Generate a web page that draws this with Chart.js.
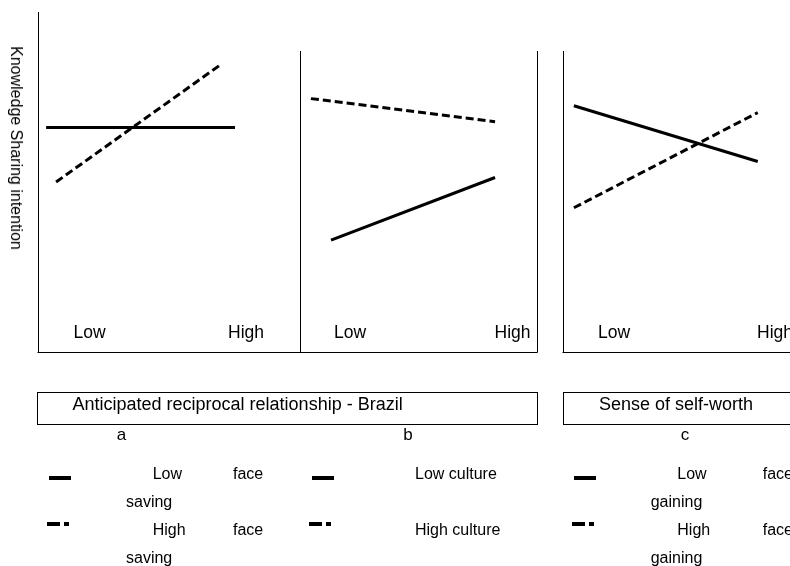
<!DOCTYPE html>
<html>
<head>
<meta charset="utf-8">
<script src="https://cdn.jsdelivr.net/npm/chart.js@4/dist/chart.umd.min.js"></script>
<style>
  html, body { margin: 0; padding: 0; background: #fff; }
  #wrap { position: relative; width: 790px; height: 566px; overflow: hidden; font-family: "Liberation Sans", Arial, sans-serif; color: #000; }
  #wrap canvas { position: absolute; left: 0; top: 0; }
  .t { position: absolute; white-space: nowrap; }
  .box { position: absolute; border: 1px solid #000; box-sizing: border-box; }
  .sw { position: absolute; background: #000; height: 4px; }
</style>
</head>
<body>
<div id="wrap">
  <canvas id="ca" width="790" height="566"></canvas>
  <canvas id="cb" width="790" height="566"></canvas>
  <canvas id="cc" width="790" height="566"></canvas>
</div>
<script>
// ---- data (x in 0..10 along each panel, y in common intention units) ----
const levelLabels = ['Low', 'High'];

// panel a: Anticipated reciprocal relationship - Brazil x face saving
const aLevelX = [1.97, 7.94];
const aLowX = [0.31, 7.52];
const aLowY = [6.60, 6.60];
const aHighX = [0.69, 6.95];
const aHighY = [5.00, 8.44];

// panel b: Anticipated reciprocal relationship - Brazil x culture
const bLevelX = [2.11, 8.97];
const bLowX = [1.31, 8.23];
const bLowY = [3.29, 5.13];
const bHighX = [0.46, 8.23];
const bHighY = [7.45, 6.77];

// panel c: Sense of self-worth x face gaining
const cLevelX = [2.25, 9.34];
const cLowX = [0.48, 8.58];
const cLowY = [7.24, 5.60];
const cHighX = [0.48, 8.58];
const cHighY = [4.24, 7.04];

const yMaxA = 10;
const yMaxBC = 8.85;

const seriesNames = {
  a: ['Low face saving', 'High face saving'],
  b: ['Low culture', 'High culture'],
  c: ['Low face gaining', 'High face gaining']
};

function pts(xs, ys) { return xs.map((x, i) => ({ x: x, y: ys[i] })); }

const framePlugin = {
  id: 'frame',
  afterDraw(chart, args, opts) {
    const ctx = chart.ctx, a = chart.chartArea;
    ctx.save();
    ctx.strokeStyle = '#000';
    ctx.lineWidth = 1;
    const L = Math.floor(a.left) + 0.5, R = Math.floor(a.right) + 0.5, B = Math.floor(a.bottom) + 0.5, T = Math.floor(a.top);
    ctx.beginPath();
    (opts.sides || []).forEach(s => {
      if (s === 'left') { ctx.moveTo(L, T); ctx.lineTo(L, B); }
      if (s === 'right') { ctx.moveTo(R, T); ctx.lineTo(R, B); }
      if (s === 'bottom') { ctx.moveTo(a.left - 0.5, B); ctx.lineTo(a.right + 0.5, B); }
    });
    ctx.stroke();
    // level labels
    const xs = chart.scales.x;
    ctx.fillStyle = '#000';
    ctx.font = '17.5px "Liberation Sans", Arial, sans-serif';
    ctx.textAlign = 'center';
    ctx.textBaseline = 'alphabetic';
    (opts.levelX || []).forEach((v, i) => {
      ctx.fillText(levelLabels[i], xs.getPixelForValue(v), a.bottom - 14);
    });
    ctx.restore();
  }
};

function makeChart(id, pad, yMax, lowPts, highPts, names, sides, levelX) {
  return new Chart(document.getElementById(id), {
    type: 'scatter',
    data: {
      datasets: [
        { label: names[0], data: lowPts, showLine: true, borderColor: '#000', borderWidth: 3, pointRadius: 0, fill: false },
        { label: names[1], data: highPts, showLine: true, borderColor: '#000', borderWidth: 3, borderDash: [8, 4], pointRadius: 0, fill: false }
      ]
    },
    options: {
      responsive: false,
      animation: false,
      layout: { padding: pad },
      scales: {
        x: { type: 'linear', min: 0, max: 10, display: false },
        y: { type: 'linear', min: 0, max: yMax, display: false }
      },
      plugins: {
        legend: { display: false },
        tooltip: { enabled: false },
        frame: { sides: sides, levelX: levelX }
      }
    },
    plugins: [framePlugin]
  });
}

makeChart('ca', { left: 38, top: 12, right: 490, bottom: 214 }, yMaxA,
  pts(aLowX, aLowY), pts(aHighX, aHighY), seriesNames.a, ['left', 'bottom'], aLevelX);
makeChart('cb', { left: 300, top: 51, right: 253, bottom: 214 }, yMaxBC,
  pts(bLowX, bLowY), pts(bHighX, bHighY), seriesNames.b, ['left', 'right', 'bottom'], bLevelX);
makeChart('cc', { left: 563, top: 51, right: 0, bottom: 214 }, yMaxBC,
  pts(cLowX, cLowY), pts(cHighX, cHighY), seriesNames.c, ['left', 'bottom'], cLevelX);

// ---- surrounding text, boxes and legend keys ----
const wrap = document.getElementById('wrap');
function txt(s, x, baseline, fs, align) {
  const d = document.createElement('div');
  d.className = 't';
  d.textContent = s;
  d.style.fontSize = fs + 'px';
  d.style.lineHeight = fs + 'px';
  d.style.top = (baseline - 0.8465 * fs) + 'px';
  if (align === 'center') { d.style.left = x + 'px'; d.style.transform = 'translateX(-50%)'; }
  else d.style.left = x + 'px';
  wrap.appendChild(d);
  return d;
}
function box(l, t, w, h) {
  const d = document.createElement('div');
  d.className = 'box';
  Object.assign(d.style, { left: l + 'px', top: t + 'px', width: w + 'px', height: h + 'px' });
  wrap.appendChild(d);
}
function bar(l, t, w) {
  const d = document.createElement('div');
  d.className = 'sw';
  Object.assign(d.style, { left: l + 'px', top: t + 'px', width: w + 'px' });
  wrap.appendChild(d);
}
function solidKey(l) { bar(l, 476, 22); }
function dashKey(l) { bar(l, 522, 13); bar(l + 17, 522, 5); }

// y axis title
const yt = document.createElement('div');
yt.className = 't';
yt.textContent = 'Knowledge Sharing intention';
Object.assign(yt.style, { fontSize: '16px', lineHeight: '16px', left: '16px', top: '147.5px', transform: 'translate(-50%, -50%) rotate(90deg)' });
wrap.appendChild(yt);

box(37, 392, 501, 33);
box(563, 392, 260, 33);
txt('Anticipated reciprocal relationship - Brazil', 72.5, 410, 18);
txt('Sense of self-worth', 676, 410, 18, 'center');
txt('a', 121.5, 440, 17, 'center');
txt('b', 408, 440, 17, 'center');
txt('c', 685, 440, 17, 'center');

// legend a
solidKey(49); dashKey(47);
txt('Low', 152.7, 479.5, 16); txt('face', 233, 479.5, 16); txt('saving', 126, 508, 16);
txt('High', 152.7, 535.7, 16); txt('face', 233, 535.7, 16); txt('saving', 126, 564, 16);
// legend b
solidKey(311.5); dashKey(309.3);
txt('Low culture', 415, 479.5, 16); txt('High culture', 415, 535.7, 16);
// legend c
solidKey(574.3); dashKey(571.7);
txt('Low', 677.3, 479.5, 16); txt('face', 762.7, 479.5, 16); txt('gaining', 650.7, 508, 16);
txt('High', 677.3, 535.7, 16); txt('face', 762.7, 535.7, 16); txt('gaining', 650.7, 564, 16);
</script>
</body>
</html>
